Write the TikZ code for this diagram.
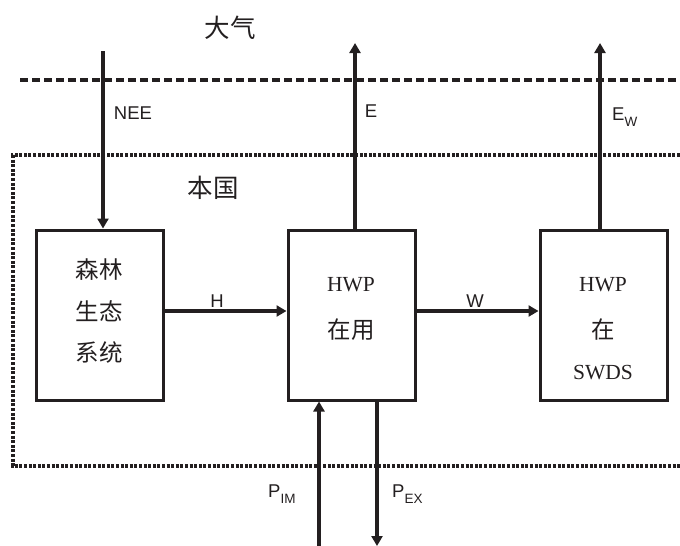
\documentclass[tikz,border=0pt]{standalone}
\usepackage{fontspec}
\setmainfont{Liberation Serif}
\setsansfont{Liberation Sans}
\newfontfamily\cjk{Noto Sans CJK SC}
\usetikzlibrary{arrows.meta}
\definecolor{ink}{HTML}{231F20}
\begin{document}
\begin{tikzpicture}[x=1pt,y=-1pt,
  box/.style={draw=ink,line width=3pt,minimum width=127pt,minimum height=170pt,inner sep=0pt},
  flow/.style={draw=ink,line width=3.8pt,-{Triangle[length=10pt,width=11pt]}},
  cjktxt/.style={font=\cjk\fontsize{23.5}{23.5}\selectfont,text=ink,inner sep=0pt},
  cjkbig/.style={font=\cjk\fontsize{25.5}{25.5}\selectfont,text=ink,inner sep=0pt},
  sertxt/.style={font=\rmfamily\fontsize{21.5}{21.5}\selectfont,text=ink,inner sep=0pt},
  lbl/.style={font=\sffamily\fontsize{18.5}{18.5}\selectfont,text=ink,inner sep=0pt},
  sub/.style={}]
\newcommand{\subtxt}[1]{\raisebox{-0.55ex}{\fontsize{13.5}{13.5}\selectfont #1}}
\useasboundingbox (0,0) rectangle (680,546);
% boundaries
\draw[ink,line width=3.3pt,dash pattern=on 8pt off 4pt] (20,80) -- (680,80);
\draw[ink,line width=3.6pt,dash pattern=on 3pt off 1.6pt] (680,155) -- (13,155) -- (13,466) -- (680,466);
\node[cjkbig] (atm) at (230,28) {大气};
\node[cjkbig] (cty) at (213,188) {本国};
% boxes
\node[box] (b1) at (99.5,315) {};
\node[box] (b2) at (351.5,315) {};
\node[box] (b3) at (603.5,315) {};
\node[cjktxt] (t11) at (99,270) {森林};
\node[cjktxt] (t12) at (99,311) {生态};
\node[cjktxt] (t13) at (99,352) {系统};
\node[sertxt] (t21) at (351,285) {HWP};
\node[cjktxt] (t22) at (351,330) {在用};
\node[sertxt] (t31) at (603,285) {HWP};
\node[cjktxt] (t32) at (603,330) {在};
\node[sertxt] (t33) at (603,373) {SWDS};
% connectors
\coordinate (neeTop) at (103,51);
\coordinate (eTop) at (355,43);
\coordinate (ewTop) at (600,43);
\coordinate (pimBot) at (319,548);
\coordinate (pexBot) at (377,546);
\draw[flow] (neeTop) -- (neeTop |- b1.north);
\draw[flow] (eTop |- b2.north) -- (eTop);
\draw[flow] (ewTop |- b3.north) -- (ewTop);
\draw[flow] (b1.east |- 0,311) -- (b2.west |- 0,311);
\draw[flow] (b2.east |- 0,311) -- (b3.west |- 0,311);
\draw[flow] (pimBot) -- (pimBot |- b2.south);
\draw[flow] (pexBot |- b2.south) -- (pexBot);
% labels
\node[lbl] (lnee) at (133,113) {NEE};
\node[lbl] (le) at (371,111) {E};
\node[lbl,anchor=west] (lew) at (612,117) {E\subtxt{W}};
\node[lbl] (lh) at (217,301) {H};
\node[lbl] (lw) at (475,301) {W};
\node[lbl,anchor=west] (lpim) at (268,494) {P\subtxt{IM}};
\node[lbl,anchor=west] (lpex) at (392,494) {P\subtxt{EX}};
\end{tikzpicture}
\end{document}
